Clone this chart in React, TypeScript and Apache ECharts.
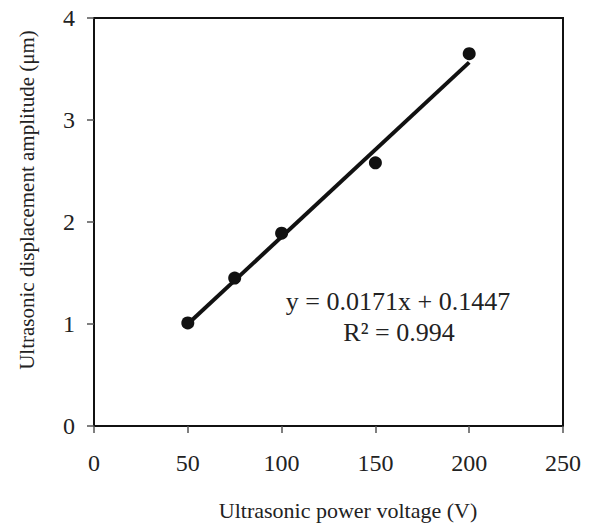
import React, { useEffect, useRef } from "react";
import * as echarts from "echarts";

const voltages = [50, 75, 100, 150, 200];
const amplitudes = [1.01, 1.45, 1.89, 2.58, 3.65];
const fitSlope = 0.0171;
const fitIntercept = 0.1447;
const fitRange = [50, 200];
const xTicks = [0, 50, 100, 150, 200, 250];
const yTicks = [0, 1, 2, 3, 4];
const xTitle = "Ultrasonic power voltage (V)";
const yTitle = "Ultrasonic displacement amplitude (μm)";

export default function App() {
  const ref = useRef<HTMLDivElement>(null);
  useEffect(() => {
    if (!ref.current) return;
    const chart = echarts.init(ref.current, null, { renderer: "svg" });
    const font = "'Liberation Serif', 'Times New Roman', serif";
    const fitLine = fitRange.map((x) => [x, fitSlope * x + fitIntercept]);
    chart.setOption({
      animation: false,
      textStyle: { fontFamily: font },
      grid: { left: 94, top: 18, width: 469, height: 408, show: true, borderColor: "#111", borderWidth: 2, backgroundColor: "transparent" },
      xAxis: {
        type: "value",
        min: xTicks[0],
        max: xTicks[xTicks.length - 1],
        interval: 50,
        axisLine: { show: true, onZero: false, lineStyle: { color: "#111", width: 2 } },
        axisTick: { show: true, inside: false, length: 7, lineStyle: { color: "#555", width: 1.5 } },
        axisLabel: { fontFamily: font, fontSize: 24, color: "#222", margin: 25 },
        splitLine: { show: false },
      },
      yAxis: {
        type: "value",
        min: yTicks[0],
        max: yTicks[yTicks.length - 1],
        interval: 1,
        axisLine: { show: true, onZero: false, lineStyle: { color: "#111", width: 2 } },
        axisTick: { show: true, inside: false, length: 7, lineStyle: { color: "#555", width: 1.5 } },
        axisLabel: { fontFamily: font, fontSize: 24, color: "#222", margin: 19 },
        splitLine: { show: false },
      },
      graphic: [
        {
          type: "text",
          x: 348,
          y: 510,
          style: {
            text: xTitle,
            font: "22px " + font,
            fill: "#222",
            align: "center",
            verticalAlign: "middle",
          },
        },
        {
          type: "text",
          x: 27,
          y: 200,
          rotation: Math.PI / 2,
          style: {
            text: yTitle,
            font: "21px " + font,
            fill: "#222",
            align: "center",
            verticalAlign: "middle",
          },
        },
        {
          type: "text",
          x: 398,
          y: 301,
          style: {
            text: "y = 0.0171x + 0.1447",
            font: "26px " + font,
            fill: "#222",
            align: "center",
            verticalAlign: "middle",
          },
        },
        {
          type: "text",
          x: 399,
          y: 332,
          style: {
            text: "R² = 0.994",
            font: "26px " + font,
            fill: "#222",
            align: "center",
            verticalAlign: "middle",
          },
        },
      ],
      series: [
        {
          type: "line",
          data: fitLine,
          symbol: "none",
          lineStyle: { color: "#111", width: 4 },
          z: 2,
        },
        {
          type: "scatter",
          data: voltages.map((v, i) => [v, amplitudes[i]]),
          symbol: "circle",
          symbolSize: 13,
          itemStyle: { color: "#111", opacity: 1 },
          z: 3,
        },
      ],
    });
    return () => chart.dispose();
  }, []);
  return <div ref={ref} style={{ width: 594, height: 525, position: "absolute", left: 0, top: 0 }} />;
}
